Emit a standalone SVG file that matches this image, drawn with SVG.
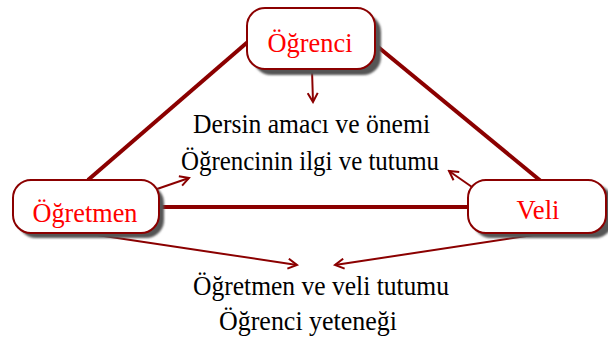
<svg xmlns="http://www.w3.org/2000/svg" width="608" height="340" viewBox="0 0 608 340">
<defs>
<marker id="ah" viewBox="0 0 12 12" refX="10" refY="6" markerWidth="12" markerHeight="12" markerUnits="userSpaceOnUse" orient="auto">
<path d="M1,1 L10,6 L1,11" fill="none" stroke="#8B0000" stroke-width="2"/>
</marker>
<filter id="sh" x="-10%" y="-10%" width="130%" height="140%"><feGaussianBlur stdDeviation="1"/></filter>
</defs>
<style>
.box{fill:#fff;stroke:#8B0000;stroke-width:2}
.shadow{fill:#555}
.lbl{font-family:"Liberation Serif","Times New Roman",serif;font-size:28px;fill:#ff0000;text-anchor:middle}
.txt{font-family:"Liberation Serif","Times New Roman",serif;font-size:28px;fill:#000;text-anchor:middle}
.thick{stroke:#8B0000;stroke-width:4;fill:none}
.thin{stroke:#8B0000;stroke-width:2;fill:none;marker-end:url(#ah)}
</style>
<rect width="608" height="340" fill="#fff"/>
<g id="connectors">
<line class="thick" x1="88" y1="180" x2="250" y2="40"/>
<line class="thick" x1="372" y1="42" x2="542" y2="182"/>
<line class="thick" x1="158" y1="207" x2="470" y2="207"/>
<line class="thin" x1="312" y1="70" x2="313" y2="102"/>
<line class="thin" x1="157" y1="189" x2="189" y2="178"/>
<line class="thin" x1="472" y1="187" x2="449" y2="171"/>
<line class="thin" x1="84" y1="233" x2="297" y2="265"/>
<line class="thin" x1="540" y1="234" x2="335" y2="265"/>
</g>
<g id="node-ogrenci">
<rect class="shadow" x="253" y="14" width="128" height="61" rx="18" filter="url(#sh)"/>
<rect class="box" x="247" y="8" width="128" height="61" rx="18"/>
<text class="lbl" x="310" y="52" textLength="85" lengthAdjust="spacingAndGlyphs">Öğrenci</text>
</g>
<g id="node-ogretmen">
<rect class="shadow" x="18" y="185" width="146" height="53" rx="18" filter="url(#sh)"/>
<rect class="box" x="13" y="180" width="146" height="53" rx="18"/>
<text class="lbl" x="85" y="222" textLength="105" lengthAdjust="spacingAndGlyphs">Öğretmen</text>
</g>
<g id="node-veli">
<rect class="shadow" x="473" y="185" width="140" height="53" rx="18" filter="url(#sh)"/>
<rect class="box" x="468" y="180" width="138" height="53" rx="18"/>
<text class="lbl" x="538" y="219" textLength="43" lengthAdjust="spacingAndGlyphs">Veli</text>
</g>
<g id="texts">
<text class="txt" x="311.5" y="133" textLength="237" lengthAdjust="spacingAndGlyphs">Dersin amacı ve önemi</text>
<text class="txt" x="310" y="170" textLength="258" lengthAdjust="spacingAndGlyphs">Öğrencinin ilgi ve tutumu</text>
<text class="txt" x="321" y="295" textLength="256" lengthAdjust="spacingAndGlyphs">Öğretmen ve veli tutumu</text>
<text class="txt" x="308" y="330" textLength="178" lengthAdjust="spacingAndGlyphs">Öğrenci yeteneği</text>
</g>
</svg>
